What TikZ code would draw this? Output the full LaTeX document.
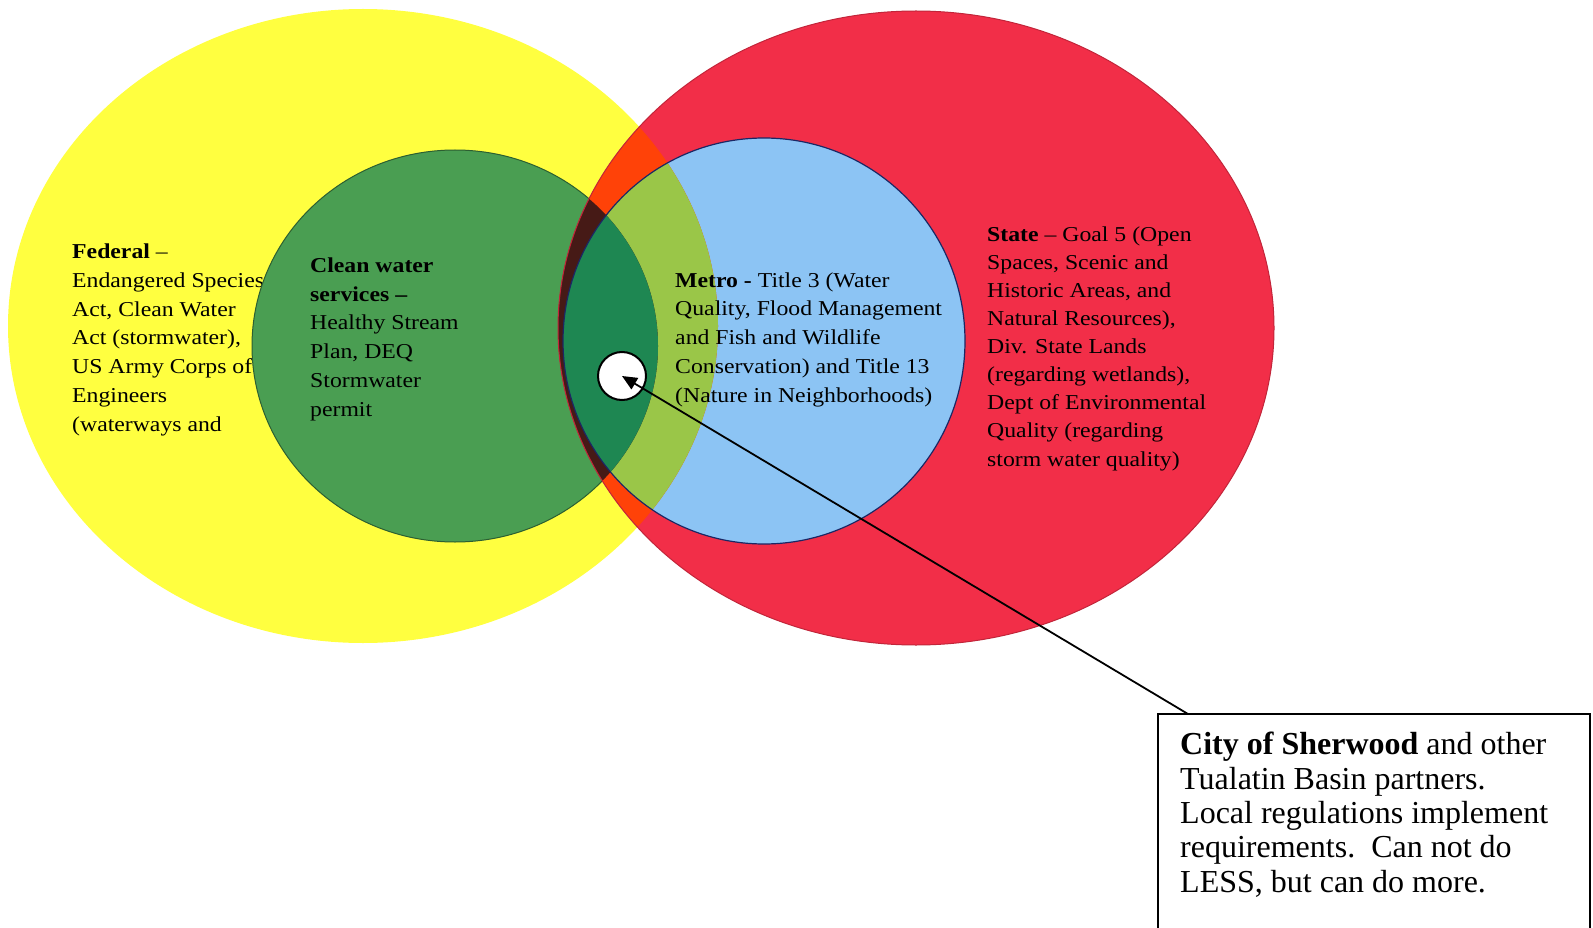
\documentclass[tikz,border=0pt]{standalone}
\usepackage{fontspec}
\setmainfont{Liberation Serif}
\newfontfamily\vennfont[FakeStretch=1.12]{Liberation Serif}
\usetikzlibrary{arrows.meta, positioning}
\definecolor{fedYellow}{RGB}{255,255,64}
\definecolor{cwsGreen}{RGB}{74,158,82}
\definecolor{stateRed}{RGB}{242,46,72}
\definecolor{metroBlue}{RGB}{140,196,244}
\definecolor{fedState}{RGB}{255,66,8}
\definecolor{cwsState}{RGB}{70,26,22}
\definecolor{fedMetro}{RGB}{154,198,72}
\definecolor{cwsMetro}{RGB}{30,135,82}
% base anchor of a multi-line node sits on its last line
\tikzstyle{vennText} = [align=left, anchor=base west, inner sep=0pt, font=\vennfont\fontsize{21.2}{28.7}\selectfont]
\tikzstyle{tightText} = [vennText, font=\vennfont\fontsize{21.2}{28.1}\selectfont]
\tikzstyle{boxText} = [align=left, anchor=base west, inner sep=0pt, font=\fontsize{32}{34.3}\selectfont]
\tikzstyle{frame} = [line width=1.8pt]
\tikzstyle{pointer} = [-{Triangle[length=15pt, width=13pt]}, line width=1.8pt]
\tikzstyle{dot} = [circle, draw, fill=white, line width=2pt, minimum size=48pt, inner sep=0pt]
\tikzstyle{cwsEdge} = [draw=cwsGreen!60!black, line width=1pt]
\tikzstyle{stateEdge} = [draw=stateRed!80!black, line width=1pt]
\tikzstyle{metroEdge} = [draw=metroBlue!25!black!80!blue, line width=1.2pt]
\newcommand{\fedArea}{(363,326) ellipse [x radius=355, y radius=317]}
\newcommand{\cwsArea}{(455,346) ellipse [x radius=203, y radius=196]}
\newcommand{\stateArea}{(916,328) ellipse [x radius=358, y radius=317]}
\newcommand{\metroArea}{(764,341) ellipse [x radius=201, y radius=203]}
\begin{document}
\begin{tikzpicture}[x=1pt, y=-1pt]
    \useasboundingbox (0,0) rectangle (1593,928);
    % federal circle, its text goes under the green one
    \fill [fedYellow] \fedArea;
    \node (federal) [vennText] at (72,431) {\textbf{Federal} –\\ Endangered Species\\ Act, Clean Water\\ Act (stormwater),\\ US Army Corps of\\ Engineers\\ (waterways and};
    \fill [cwsGreen] \cwsArea;
    \draw [cwsEdge] \cwsArea;
    \fill [stateRed] \stateArea;
    \fill [metroBlue] \metroArea;

    % overlaps
    \begin{scope}
        \clip \fedArea;
        \fill [fedState] \stateArea;
        \fill [fedMetro] \metroArea;
    \end{scope}
    \begin{scope}
        \clip \cwsArea;
        \fill [cwsState] \stateArea;
        \fill [cwsMetro] \metroArea;
    \end{scope}
    \draw [stateEdge] \stateArea;
    \draw [metroEdge] \metroArea;

    \node (cws) [vennText] at (310,416) {\textbf{Clean water}\\ \textbf{services –}\\ Healthy Stream\\ Plan, DEQ\\ Stormwater\\ permit};
    \node (metro) [vennText] at (675,402) {\textbf{Metro -} Title 3 (Water\\ Quality, Flood Management\\ and Fish and Wildlife\\ Conservation) and Title 13\\ (Nature in Neighborhoods)};
    \node (state) [tightText] at (987,466) {\textbf{State} – Goal 5 (Open\\ Spaces, Scenic and\\ Historic Areas, and\\ Natural Resources),\\ Div. State Lands\\ (regarding wetlands),\\ Dept of Environmental\\ Quality (regarding\\ storm water quality)};

    \node (city) [dot] at (622,376) {};

    % the box, cut off at the bottom
    \coordinate (boxBL) at (1158,940);
    \coordinate (boxTL) at (1158,714);
    \coordinate (boxTR) at (1590,714);
    \coordinate (boxBR) at (1590,940);
    \draw [frame] (boxBL) -- (boxTL) -- (boxTR) -- (boxBR);
    \node (sherwood) [boxText] at (1180,892) {\textbf{City of Sherwood} and other\\ Tualatin Basin partners.\\ Local regulations implement\\ requirements.\ \ Can not do\\ LESS, but can do more.};

    \coordinate (pin) at (1188,714);
    \draw [pointer] (pin) -- (city.center);
\end{tikzpicture}
\end{document}
